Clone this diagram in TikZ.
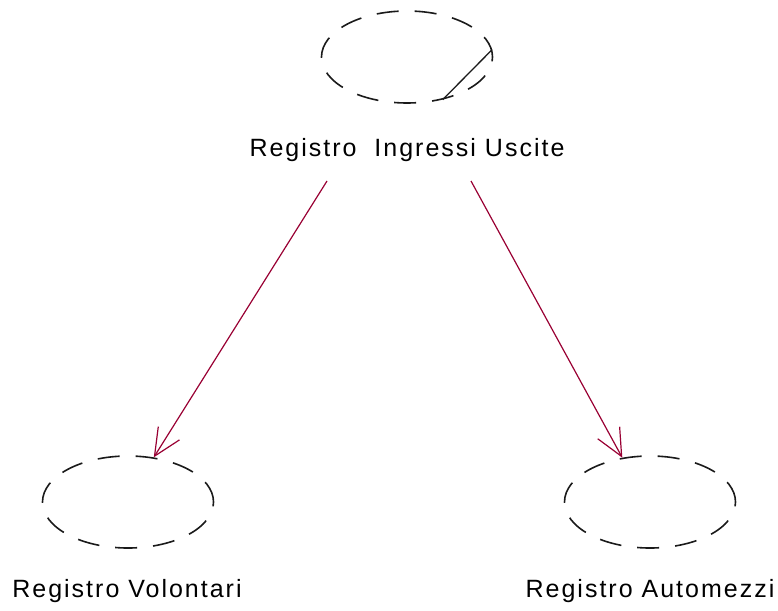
\documentclass[tikz,border=0pt]{standalone}
\usepackage{fontspec}
\setmainfont{Liberation Sans}[LetterSpace=8]
\usetikzlibrary{arrows.meta,shapes.geometric}
\definecolor{arrowred}{HTML}{990033}
\definecolor{inkdark}{HTML}{1A1A1A}
\begin{document}
\begin{tikzpicture}[x=1pt,y=-1pt,
  usecase/.style={ellipse,draw=inkdark,line width=1.6pt,dash pattern=on 22pt off 16pt,
    minimum width=171pt,minimum height=92pt,inner sep=0pt},
  caption/.style={anchor=base,font=\fontsize{25}{29}\selectfont,inner sep=0pt,text=black},
  dep/.style={draw=arrowred,line width=1.2pt,-{Straight Barb[length=27pt,width=25pt,line width=1.2pt]}}]
\useasboundingbox (0,0) rectangle (778,610);
\node[usecase] (reg) at (407,57) {};
\node[usecase] (vol) at (128,502) {};
\node[usecase] (aut) at (650,502) {};
\node[caption] (regl) at (407,156) {Registro\ \ Ingressi Uscite};
\node[caption] (voll) at (127,597) {Registro Volontari};
\node[caption] (autl) at (650,597) {Registro Automezzi};
\draw[inkdark,line width=1.3pt] (reg.5) -- (reg.-50);
\coordinate (s1) at (327,181);
\coordinate (s2) at (471,181);
\draw[dep] (s1) -- (vol.60);
\draw[dep] (s2) -- (aut.122);
\end{tikzpicture}
\end{document}
